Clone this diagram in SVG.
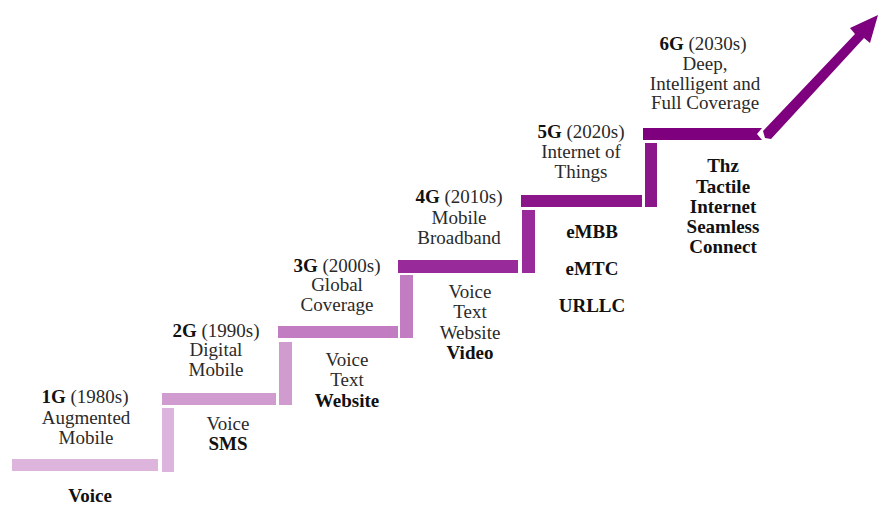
<svg xmlns="http://www.w3.org/2000/svg" width="879" height="506" viewBox="0 0 879 506">
<style>
text{font-family:"Liberation Serif","Times New Roman",serif;font-size:19px;fill:#2a2a2a;text-anchor:middle}
.b{font-weight:bold;fill:#111}
.s1{fill:#dcb4dc}.s2{fill:#d09cd0}.s3{fill:#c27dc2}.s4{fill:#992a99}.s5{fill:#8a168a}.s6{fill:#7e007e}
</style>
<rect width="879" height="506" fill="#fff"/>
<g id="connectors">
<rect class="s1" x="12" y="459" width="146" height="12"/>
<rect class="s1" x="162" y="408" width="12" height="64"/>
<rect class="s2" x="162" y="393" width="114" height="12"/>
<rect class="s2" x="279" y="342" width="13" height="63"/>
<rect class="s3" x="278" y="326" width="120" height="12"/>
<rect class="s3" x="400" y="275" width="13" height="63"/>
<rect class="s4" x="398" y="260" width="120" height="13"/>
<rect class="s4" x="522" y="210" width="13" height="63"/>
<rect class="s5" x="521" y="195" width="121" height="12"/>
<rect class="s5" x="645" y="143" width="12" height="64"/>
<polygon class="s6" points="643,128 762,128 757,134 762,140 643,140"/>
<polygon class="s6" points="763,131 855,34 850,28 878,15 870,43 864,38 771,139 765,138"/>
</g>
<g id="g1"><text x="85" y="403"><tspan class="b">1G</tspan> (1980s)</text><text x="86" y="424">Augmented</text><text x="86" y="444">Mobile</text><text class="b" x="90" y="502">Voice</text></g>
<g id="g2"><text x="216" y="337"><tspan class="b">2G</tspan> (1990s)</text><text x="216" y="356">Digital</text><text x="216" y="376">Mobile</text><text x="228" y="430">Voice</text><text class="b" x="228" y="450">SMS</text></g>
<g id="g3"><text x="337" y="272"><tspan class="b">3G</tspan> (2000s)</text><text x="337" y="291">Global</text><text x="337" y="311">Coverage</text><text x="347" y="366">Voice</text><text x="347" y="386">Text</text><text class="b" x="347" y="407">Website</text></g>
<g id="g4"><text x="459" y="203"><tspan class="b">4G</tspan> (2010s)</text><text x="459" y="224">Mobile</text><text x="459" y="244">Broadband</text><text x="470" y="298">Voice</text><text x="470" y="318">Text</text><text x="470" y="339">Website</text><text class="b" x="470" y="359">Video</text></g>
<g id="g5"><text x="581" y="138"><tspan class="b">5G</tspan> (2020s)</text><text x="581" y="158">Internet of</text><text x="581" y="178">Things</text><text class="b" x="592" y="238">eMBB</text><text class="b" x="592" y="275">eMTC</text><text class="b" x="592" y="312">URLLC</text></g>
<g id="g6"><text x="703" y="50"><tspan class="b">6G</tspan> (2030s)</text><text x="705" y="70">Deep,</text><text x="705" y="90">Intelligent and</text><text x="705" y="109">Full Coverage</text><text class="b" x="723" y="172">Thz</text><text class="b" x="723" y="193">Tactile</text><text class="b" x="723" y="213">Internet</text><text class="b" x="723" y="233">Seamless</text><text class="b" x="723" y="253">Connect</text></g>
</svg>
